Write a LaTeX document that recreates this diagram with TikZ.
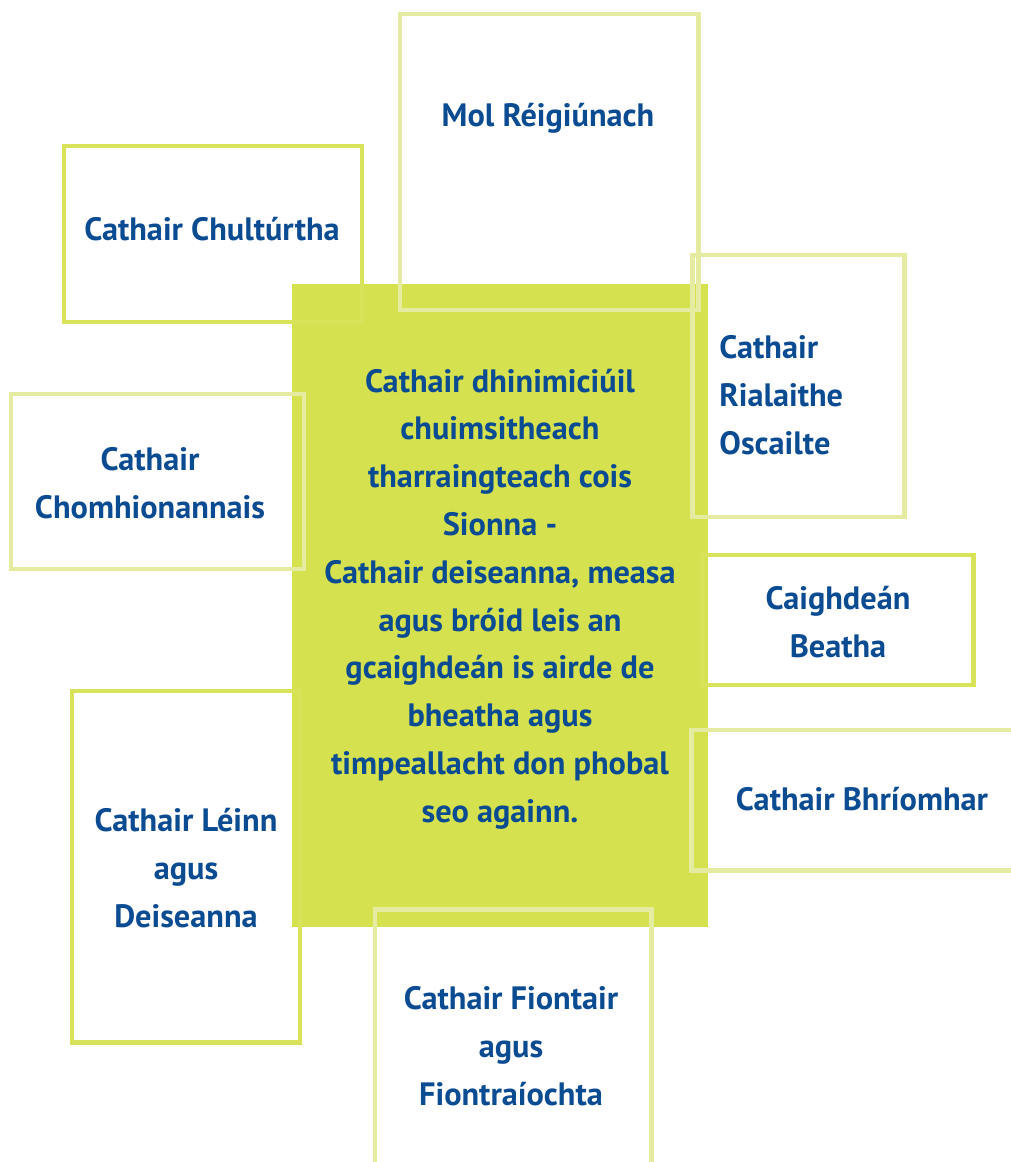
\documentclass[tikz,border=0pt]{standalone}
\usepackage{fontspec}
\setmainfont{PT Sans}
\usepackage{tikz}
\definecolor{limefill}{HTML}{D5E14E}
\definecolor{limedark}{HTML}{D8E35A}
\definecolor{limelight}{HTML}{E5ECA2}
\definecolor{textblue}{HTML}{0B4B92}

\begin{document}
\begin{tikzpicture}[x=0.02cm,y=-0.02cm,
   darkbox/.style={draw=limedark, line width=5pt*0.567},
   lightbox/.style={draw=limelight, line width=5pt*0.567},
   label/.style={text=textblue, font=\bfseries\fontsize{18.4}{27.2}\selectfont, align=center, inner sep=0pt}]
   \useasboundingbox (0,0) rectangle (1010,1162);
   % centre block
   \fill[limefill] (292,284) rectangle (708,927);
   % surrounding boxes
   \draw[lightbox] (400,14) rectangle (698,310);
   \draw[darkbox] (64,146) rectangle (362,322);
   \draw[lightbox] (692,255) rectangle (904,517);
   \draw[lightbox] (11,394) rectangle (304,569);
   \draw[darkbox] (702,555) rectangle (973,685);
   \draw[lightbox] (691,730) rectangle (1030,870);
   \draw[darkbox] (72,691) rectangle (300,1042);
   \draw[lightbox] (375,909) rectangle (651,1180);
   % texts
   \node[label] (mol) at (548,118) {Mol Réigiúnach};
   \node[label] (cultur) at (212,229) {Cathair Chultúrtha};
   \node[label, align=left, anchor=west] (rialaithe) at (719,395) {Cathair\\Rialaithe\\Oscailte};
   \node[label] (comhion) at (150,483) {Cathair\\Chomhionannais};
   \node[label] (fis) at (500,599) {Cathair dhinimiciúil\\chuimsitheach\\tharraingteach cois\\Sionna -\\Cathair deiseanna, measa\\agus bróid leis an\\gcaighdeán is airde de\\bheatha agus\\timpeallacht don phobal\\seo againn.};
   \node[label] (caighdean) at (838,622) {Caighdeán\\Beatha};
   \node[label] (briomhar) at (862,799) {Cathair Bhríomhar};
   \node[label] (leinn) at (186,868) {Cathair Léinn\\agus\\Deiseanna};
   \node[label] (fiontair) at (511,1046) {Cathair Fiontair\\agus\\Fiontraíochta};
\end{tikzpicture}
\end{document}
